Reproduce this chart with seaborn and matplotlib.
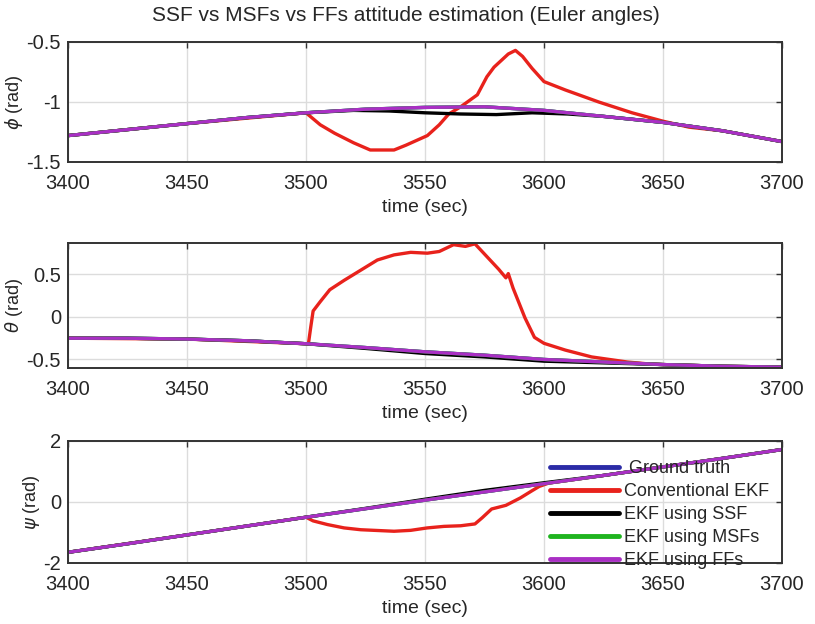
import numpy as np
import matplotlib
matplotlib.use("Agg")
import matplotlib.pyplot as plt
import seaborn as sns

# time grid for the smooth curves (ground truth / filters)
t_gt = [3400, 3425, 3450, 3475, 3500, 3525, 3550, 3575, 3600, 3625, 3650, 3675, 3700]

# roll (phi)
phi_gt = [-1.28, -1.23, -1.18, -1.13, -1.09, -1.06, -1.045, -1.04, -1.07, -1.12, -1.17, -1.24, -1.33]
t_phi_ssf = [3400, 3425, 3450, 3475, 3500, 3520, 3535, 3550, 3565, 3580, 3595, 3610, 3625, 3650, 3675, 3700]
phi_ssf = [-1.28, -1.23, -1.18, -1.13, -1.09, -1.07, -1.075, -1.09, -1.10, -1.105, -1.09, -1.10, -1.12, -1.17, -1.24, -1.33]
t_phi_ekf = [3400, 3450, 3500, 3506, 3512, 3520, 3527, 3537, 3542, 3551, 3556, 3560, 3565, 3572, 3576,
             3579, 3585, 3588, 3591, 3595, 3600, 3609, 3623, 3637, 3650, 3661, 3675, 3700]
phi_ekf = [-1.28, -1.18, -1.09, -1.19, -1.26, -1.34, -1.40, -1.40, -1.36, -1.28, -1.19, -1.10, -1.04, -0.94, -0.79,
           -0.71, -0.60, -0.57, -0.62, -0.72, -0.83, -0.90, -1.00, -1.09, -1.16, -1.21, -1.24, -1.33]

# pitch (theta)
theta_gt = [-0.25, -0.25, -0.26, -0.28, -0.315, -0.36, -0.41, -0.45, -0.50, -0.53, -0.56, -0.58, -0.59]
theta_ssf = [-0.25, -0.25, -0.26, -0.28, -0.315, -0.37, -0.43, -0.47, -0.52, -0.54, -0.56, -0.58, -0.59]
t_theta_ekf = [3400, 3450, 3500, 3501, 3502, 3503, 3506, 3510, 3516, 3523, 3530, 3537, 3544, 3551, 3556, 3562,
               3567, 3571, 3577, 3581, 3584, 3585, 3587, 3592, 3596, 3600, 3609, 3620, 3635, 3643, 3650, 3675, 3700]
theta_ekf = [-0.25, -0.26, -0.315, -0.32, -0.12, 0.07, 0.18, 0.32, 0.43, 0.55, 0.67, 0.73, 0.76, 0.75, 0.77, 0.85,
             0.83, 0.86, 0.68, 0.56, 0.46, 0.51, 0.34, -0.01, -0.24, -0.31, -0.39, -0.47, -0.53, -0.55, -0.56, -0.58, -0.59]

# yaw (psi)
psi_gt = [-1.65, -1.37, -1.08, -0.79, -0.50, -0.22, 0.06, 0.33, 0.60, 0.87, 1.15, 1.43, 1.72]
psi_ssf = [-1.65, -1.37, -1.08, -0.79, -0.50, -0.21, 0.09, 0.38, 0.63, 0.87, 1.15, 1.43, 1.72]
t_psi_ekf = [3400, 3450, 3500, 3503, 3509, 3516, 3523, 3537, 3544, 3551, 3558, 3565, 3571, 3574, 3578, 3584,
             3590, 3595, 3598, 3602, 3625, 3650, 3675, 3700]
psi_ekf = [-1.65, -1.08, -0.50, -0.62, -0.74, -0.85, -0.91, -0.96, -0.93, -0.85, -0.80, -0.78, -0.72, -0.52, -0.23, -0.11,
           0.13, 0.37, 0.51, 0.62, 0.87, 1.15, 1.43, 1.72]

labels = [" Ground truth", "Conventional EKF", "EKF using SSF", "EKF using MSFs", "EKF using FFs"]
colors = ["#2b2ba6", "#e8221c", "#000000", "#1fb41f", "#a92fc4"]

panels = [
    (r"$\phi$ (rad)", phi_gt, (t_phi_ekf, phi_ekf), (t_phi_ssf, phi_ssf), (-1.5, -0.5), [-1.5, -1, -0.5]),
    (r"$\theta$ (rad)", theta_gt, (t_theta_ekf, theta_ekf), (t_gt, theta_ssf), (-0.6, 0.87), [-0.5, 0, 0.5]),
    (r"$\psi$ (rad)", psi_gt, (t_psi_ekf, psi_ekf), (t_gt, psi_ssf), (-2, 2), [-2, 0, 2]),
]

sns.set_style("whitegrid", {"grid.color": "#dcdcdc", "axes.edgecolor": "#333333"})
plt.rcParams["font.family"] = ["Liberation Sans", "DejaVu Sans"]
plt.rcParams["mathtext.fontset"] = "dejavusans"

fig = plt.figure(figsize=(8.15, 6.24), dpi=100)
boxes = [
    [0.0834, 0.7404, 0.8761, 0.1923],
    [0.0834, 0.4103, 0.8761, 0.2003],
    [0.0834, 0.0978, 0.8761, 0.1955],
]

for box, (ylab, gt, ekf, ssf, ylim, yticks) in zip(boxes, panels):
    ax = fig.add_axes(box)
    series = [(t_gt, gt), ekf, ssf, (t_gt, gt), (t_gt, gt)]
    for (x, y), c, lab in zip(series, colors, labels):
        sns.lineplot(x=x, y=y, ax=ax, color=c, linewidth=2.4, label=lab,
                     sort=False, estimator=None, legend=False)
    ax.set_xlim(3400, 3700)
    ax.set_ylim(*ylim)
    ax.set_xticks([3400, 3450, 3500, 3550, 3600, 3650, 3700])
    ax.set_yticks(yticks)
    ax.set_yticklabels([f"{v:g}" for v in yticks])
    ax.tick_params(direction="in", length=4, width=1, top=True, right=True,
                   labelsize=14.5, color="#333333")
    ax.tick_params(axis="x", pad=9)
    ax.tick_params(axis="y", pad=5)
    ax.set_xlabel("time (sec)", fontsize=14, labelpad=4)
    ax.set_ylabel(ylab, fontsize=13, labelpad=1)
    for s in ax.spines.values():
        s.set_linewidth(1.4)
    ax.grid(True, color="#dcdcdc", linewidth=1)

handles, labs = ax.get_legend_handles_labels()
ax.legend(handles, labs, loc="lower right", bbox_to_anchor=(1.0, -0.155), frameon=False,
          fontsize=13, handlelength=3.8, labelspacing=0.33, handletextpad=0.3, borderpad=0.2)
for h in ax.get_legend().get_lines():
    h.set_linewidth(3.5)

fig.text(0.498, 0.975, "SSF vs MSFs vs FFs attitude estimation (Euler angles)",
         ha="center", va="center", fontsize=15)

fig.savefig("out.png", dpi=100)
